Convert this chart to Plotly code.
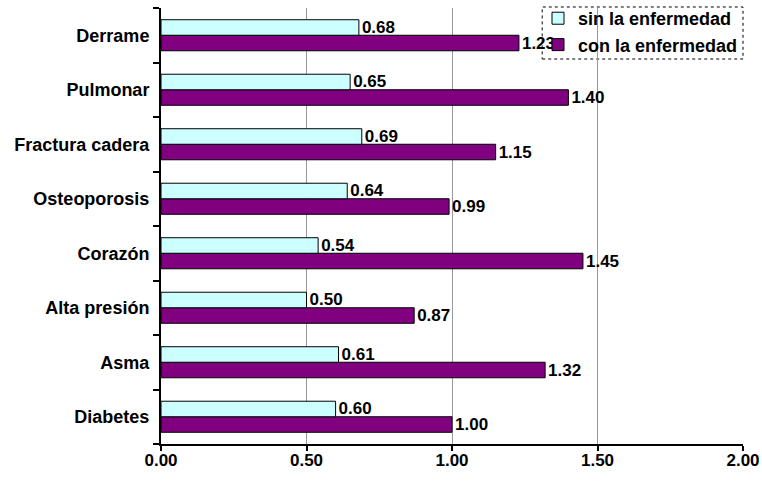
import plotly.graph_objects as go

categories = ["Diabetes", "Asma", "Alta presión", "Corazón", "Osteoporosis",
              "Fractura cadera", "Pulmonar", "Derrame"]
sin_vals = [0.60, 0.61, 0.50, 0.54, 0.64, 0.69, 0.65, 0.68]
con_vals = [1.00, 1.32, 0.87, 1.45, 0.99, 1.15, 1.40, 1.23]
x_ticks = [0, 0.5, 1.0, 1.5, 2.0]
x_tick_labels = ["0.00", "0.50", "1.00", "1.50", "2.00"]

FONT = "Liberation Sans, Arial, sans-serif"

fig = go.Figure()
fig.add_trace(go.Bar(
    y=categories, x=con_vals, orientation="h", name="con la enfermedad",
    marker=dict(color="#800080", line=dict(color="black", width=1)),
    texttemplate="%{x:.2f}", textposition="outside",
    textfont=dict(family=FONT, size=17, color="black", weight="bold"),
    constraintext="none", cliponaxis=False, legendrank=2,
))
fig.add_trace(go.Bar(
    y=categories, x=sin_vals, orientation="h", name="sin la enfermedad",
    marker=dict(color="#CCFFFF", line=dict(color="black", width=1)),
    texttemplate="%{x:.2f}", textposition="outside",
    textfont=dict(family=FONT, size=17, color="black", weight="bold"),
    constraintext="none", cliponaxis=False, legendrank=1,
))

fig.update_layout(
    width=762, height=481,
    margin=dict(l=161, r=19, t=8, b=37, autoexpand=False),
    paper_bgcolor="white", plot_bgcolor="white",
    font=dict(family=FONT, size=17, color="black", weight="bold"),
    barmode="group", bargap=0.43, bargroupgap=0,
    showlegend=True,
    legend=dict(x=1, xanchor="right", y=1.0183, yanchor="top",
                bgcolor="rgba(0,0,0,0)", borderwidth=0,
                font=dict(family=FONT, size=18, color="black", weight="bold"),
                itemwidth=30, tracegroupgap=0),
    shapes=[dict(type="rect", xref="paper", yref="paper",
                 x0=0.655, x1=1.0, y0=0.883, y1=1.0023,
                 line=dict(color="black", width=1, dash="dot"),
                 fillcolor="white", layer="between")],
)
fig.update_xaxes(
    range=[0, 2], tickvals=x_ticks, ticktext=x_tick_labels,
    showgrid=True, gridcolor="#999999", gridwidth=1,
    showline=True, linecolor="black", linewidth=2,
    ticks="outside", ticklen=5, tickwidth=2, tickcolor="black",
    ticklabelstandoff=-5,
    zeroline=False,
)
fig.update_yaxes(
    type="category", categoryorder="array", categoryarray=categories,
    showline=True, linecolor="black", linewidth=2,
    ticks="outside", ticklen=6, tickwidth=2, tickcolor="black",
    tickson="boundaries", showgrid=False, zeroline=False,
    tickfont=dict(family=FONT, size=18, color="black", weight="bold"),
    ticklabelstandoff=6,
)

fig.write_html("out.html", config={"displayModeBar": False},
               post_script="document.body.style.margin='0';")
